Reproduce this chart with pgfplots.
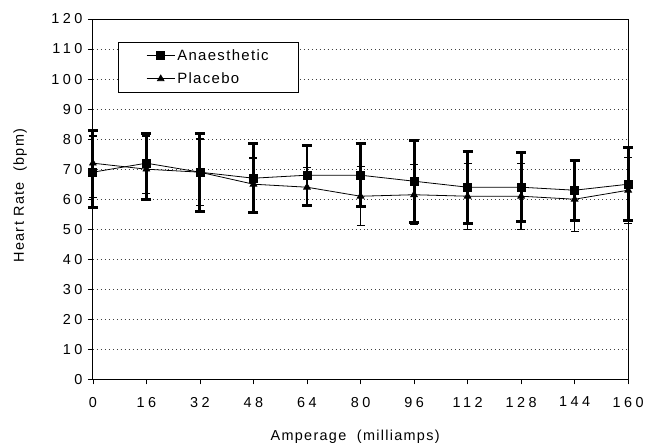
\documentclass[border=0pt]{standalone}
\usepackage{fontspec}
\setmainfont{Liberation Sans}[LetterSpace=9]
\newfontfamily\tickfont{Liberation Sans}[LetterSpace=24]
\usepackage{pgfplots}
\pgfplotsset{compat=1.18}

\begin{document}
\begin{tikzpicture}
\begin{axis}[
  scale only axis,
  width=536bp, height=361bp,
  clip=false,
  xmin=0, xmax=160,
  ymin=0, ymax=120,
  xtick={0,16,...,160},
  ytick={0,10,...,120},
  tick pos=left,
  tick align=outside,
  major tick length=5bp,
  axis line style={line width=0.9pt},
  tick style={line width=0.7pt, black},
  ymajorgrids,
  y grid style={black!75, line width=0.7pt, dash pattern=on 1pt off 3pt},
  /pgf/number format/assume math mode=true,
  ticklabel style={font=\tickfont\fontsize{14.5}{16}\selectfont},
  xticklabel style={yshift=-9bp},
  yticklabel style={xshift=-2bp},
  label style={font=\fontsize{14.5}{16}\selectfont},
  xlabel={Amperage\ \ (milliamps)},
  ylabel={Heart Rate\ \ (bpm)},
  xlabel style={at={(axis description cs:0.49,-0.158)}, anchor=center},
  ylabel style={at={(axis description cs:-0.136,0.51)}, anchor=center},
  legend cell align={left},
  legend style={
    at={(0.0466,0.936)}, anchor=north west,
    draw=black, line width=0.8pt, fill=white,
    font=\fontsize{15}{17}\selectfont,
    inner xsep=28bp, inner ysep=5bp,
    row sep=7bp,
  },
  legend image code/.code={\draw[mark repeat=2,mark phase=2,#1] plot coordinates {(0cm,0cm) (0.5cm,0cm) (1cm,0cm)};},
]
\path (rel axis cs:-0.1735,-0.1828) rectangle (rel axis cs:1.0336,1.0526);

\addplot [black, line width=0.8pt, mark=square*, mark size=4bp, mark options={solid},
  error bars/.cd, y dir=both, y explicit,
  error bar style={line width=3pt},
  error mark options={rotate=90, mark size=5bp, line width=3pt}]
coordinates {
(0,69) += (0,14) -= (0,11.6)
(16,72) += (0,10) -= (0,12)
(32,69) += (0,13) -= (0,13)
(48,67) += (0,11.5) -= (0,11.5)
(64,68) += (0,10) -= (0,10)
(80,68) += (0,10.5) -= (0,10.5)
(96,66) += (0,13.6) -= (0,13.6)
(112,64) += (0,12) -= (0,12)
(128,64) += (0,11.5) -= (0,11.5)
(144,63) += (0,10) -= (0,10)
(160,65) += (0,12.3) -= (0,12)
};
\addlegendentry{Anaesthetic}

\addplot [black, line width=0.8pt, mark=triangle*, mark size=3.8bp, mark options={solid},
  error bars/.cd, y dir=both, y explicit,
  error bar style={line width=1.3pt},
  error mark options={rotate=90, mark size=4bp, line width=1.3pt}]
coordinates {
(0,72) += (0,9) -= (0,11.4)
(16,70) += (0,11) -= (0,8)
(32,69) += (0,11) -= (0,11)
(48,65) += (0,8.7) -= (0,9)
(64,64) += (0,6.5) -= (0,6.5)
(80,61) += (0,10) -= (0,9.8)
(96,61.5) += (0,10) -= (0,10)
(112,61) += (0,11) -= (0,11)
(128,61) += (0,11) -= (0,11)
(144,60) += (0,12.6) -= (0,10.7)
(160,63) += (0,11) -= (0,11)
};
\addlegendentry{Placebo}
\end{axis}
\end{tikzpicture}
\end{document}
